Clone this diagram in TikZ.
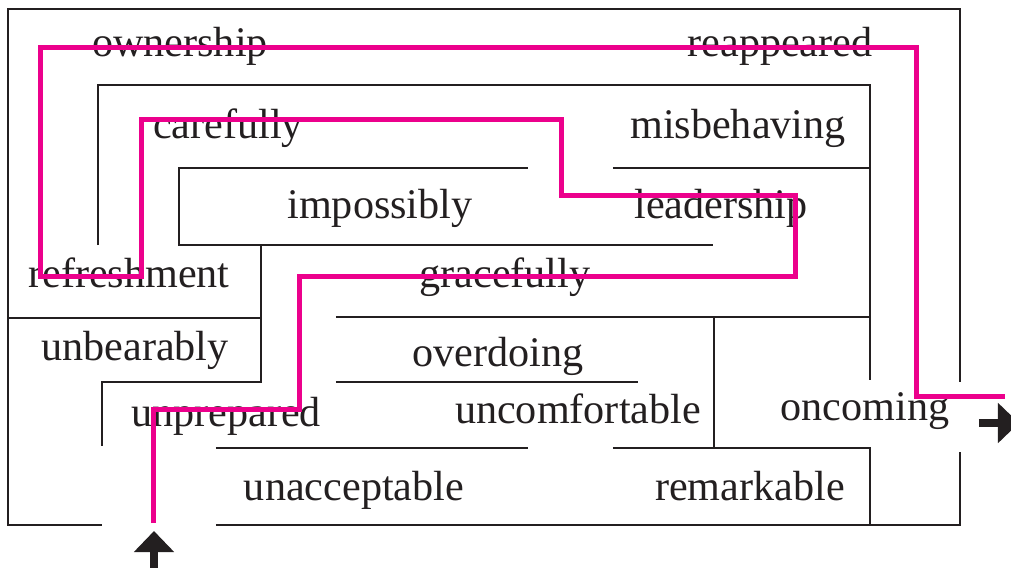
\documentclass[tikz,border=0pt]{standalone}
\usepackage{fontspec}
\setmainfont{Liberation Serif}
\usepackage{tikz}
\usetikzlibrary{arrows.meta}
\definecolor{ink}{RGB}{35,31,32}
\definecolor{route}{RGB}{236,0,140}
\tikzstyle{word}=[anchor=base, inner sep=0pt, text=ink,
    font=\fontsize{12}{14}\selectfont]
\tikzstyle{wall}=[draw=ink, line width=0.35pt]
\tikzstyle{solution}=[draw=route, line width=0.5mm, line join=miter]
\tikzstyle{gate} = [draw=ink, line width=0.8mm,
    -{Triangle[length=2.1mm,width=3.9mm]}]

\begin{document}
\begin{tikzpicture}[x=0.1mm, y=-0.1mm]
\useasboundingbox (0,0) rectangle (1011,567);
% outer walls
\draw [wall] (102,525) -- (8,525) -- (8,9) -- (960,9) -- (960,382);
\draw [wall] (216,525) -- (960,525) -- (960,452);
% second ring
\draw [wall] (98,245) -- (98,85) -- (870,85) -- (870,380);
\draw [wall] (613,168) -- (870,168);
% impossibly box
\draw [wall] (528,168) -- (179,168) -- (179,245) -- (713,245);
% left corridors
\draw [wall] (8,318) -- (261,318);
\draw [wall] (261,245) -- (261,382) -- (102,382) -- (102,446);
% middle corridors
\draw [wall] (336,317) -- (870,317);
\draw [wall] (336,382) -- (638,382);
\draw [wall] (714,317) -- (714,448);
\draw [wall] (216,448) -- (528,448);
\draw [wall] (613,448) -- (870,448) -- (870,525);

% words
\path (180,56) node [word] (ownership) {ownership};
\path (780,56) node [word] (reappeared) {reappeared};
\path (228,138) node [word] (carefully) {carefully};
\path (738,138) node [word] (misbehaving) {misbehaving};
\path (380,218) node [word] (impossibly) {impossibly};
\path (721,218) node [word] (leadership) {leadership};
\path (129,287) node [word] (refreshment) {refreshment};
\path (505,287) node [word] (gracefully) {gracefully};
\path (135,360) node [word] (unbearably) {unbearably};
\path (498,366) node [word] (overdoing) {overdoing};
\path (226,426) node [word] (unprepared) {unprepared};
\path (578,423) node [word] (uncomfortable) {uncomfortable};
\path (865,420) node [word] (oncoming) {oncoming};
\path (354,500) node [word] (unacceptable) {unacceptable};
\path (750,500) node [word] (remarkable) {remarkable};

% route through the maze
\draw [solution] (154,523) -- (154,409) -- (300,409) -- (300,276)
    -- (796,276) -- (796,195) -- (562,195) -- (562,119) -- (142,119)
    -- (142,276) -- (41,276) -- (41,47) -- (917,47) -- (917,396)
    -- (1005,396);

% entrance and exit
\coordinate (entry tail) at (154,580);
\coordinate (entry tip) at (154,531);
\coordinate (exit tail) at (979,423);
\coordinate (exit tip) at (1019,423);
\draw [gate] (entry tail) -- (entry tip);
\draw [gate] (exit tail) -- (exit tip);
\end{tikzpicture}
\end{document}
